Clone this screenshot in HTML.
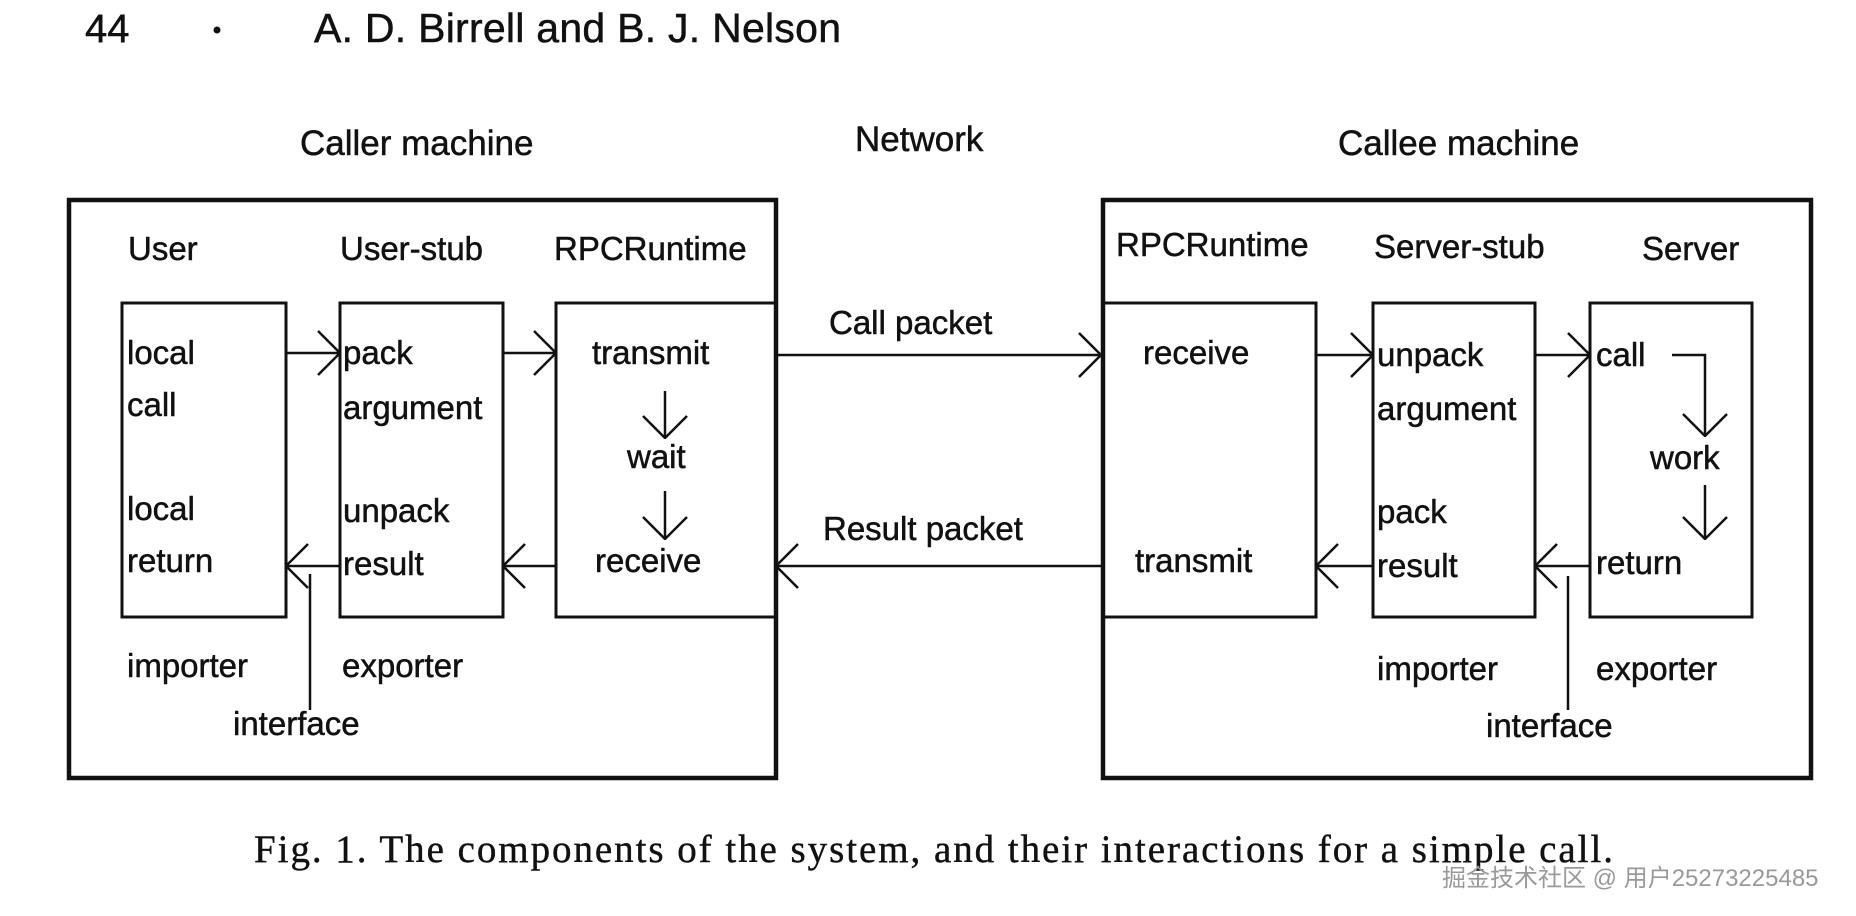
<!DOCTYPE html>
<html><head><meta charset="utf-8"><style>
html,body{margin:0;padding:0;background:#fff;}
svg{display:block;}
text{font-family:"Liberation Sans",Arial,sans-serif;fill:#111;font-size:33px;stroke:#111;stroke-width:0.5;}
</style></head><body>
<svg width="1856" height="916" viewBox="0 0 1856 916" xmlns="http://www.w3.org/2000/svg">
<defs>
<marker id="a" viewBox="0 0 24 46" refX="23" refY="23" markerWidth="24" markerHeight="46" markerUnits="userSpaceOnUse" orient="auto">
<path d="M1,1 L23,23 L1,45" fill="none" stroke="#111" stroke-width="2.5"/>
</marker>
</defs>
<text x="85" y="42" style="font-size:40px">44</text>
<circle cx="217" cy="30" r="3.5" fill="#111"/>
<text x="314" y="42" style="font-size:41px" textLength="527" lengthAdjust="spacing">A. D. Birrell and B. J. Nelson</text>

<text x="300" y="155" style="font-size:35px">Caller machine</text>
<text x="855" y="151" style="font-size:35px">Network</text>
<text x="1338" y="155" style="font-size:35px">Callee machine</text>

<g fill="none" stroke="#111">
<rect x="69" y="200" width="707" height="578" stroke-width="4.5"/>
<rect x="1103" y="200" width="708" height="578" stroke-width="4.5"/>
<g stroke-width="3">
<rect x="122" y="303" width="164" height="314"/>
<rect x="340" y="303" width="163" height="314"/>
<rect x="556" y="303" width="220" height="314"/>
<rect x="1103" y="303" width="213" height="314"/>
<rect x="1373" y="303" width="162" height="314"/>
<rect x="1590" y="303" width="162" height="314"/>
</g>
<g stroke-width="2.5" marker-end="url(#a)">
<line x1="286" y1="353" x2="340" y2="353"/>
<line x1="503" y1="353" x2="556" y2="353"/>
<line x1="776" y1="355" x2="1101" y2="355"/>
<line x1="340" y1="566" x2="286" y2="566"/>
<line x1="556" y1="566" x2="503" y2="566"/>
<line x1="1101" y1="566" x2="776" y2="566"/>
<line x1="1316" y1="355" x2="1373" y2="355"/>
<line x1="1535" y1="355" x2="1590" y2="355"/>
<line x1="1373" y1="566" x2="1316" y2="566"/>
<line x1="1590" y1="566" x2="1535" y2="566"/>
<line x1="665" y1="391" x2="665" y2="438"/>
<line x1="665" y1="491" x2="665" y2="539"/>
<polyline points="1672,355 1705,355 1705,436"/>
<line x1="1705" y1="485" x2="1705" y2="539"/>
</g>
<line x1="310" y1="574" x2="310" y2="710" stroke-width="2.5"/>
<line x1="1568" y1="576" x2="1568" y2="710" stroke-width="2.5"/>
</g>

<text x="128" y="260">User</text>
<text x="340" y="260">User-stub</text>
<text x="554" y="260">RPCRuntime</text>
<text x="1116" y="256">RPCRuntime</text>
<text x="1374" y="258">Server-stub</text>
<text x="1642" y="260">Server</text>

<text x="127" y="364">local</text>
<text x="127" y="416">call</text>
<text x="127" y="520">local</text>
<text x="127" y="572">return</text>
<text x="343" y="364">pack</text>
<text x="343" y="419">argument</text>
<text x="343" y="522">unpack</text>
<text x="343" y="575">result</text>
<text x="592" y="364">transmit</text>
<text x="627" y="468">wait</text>
<text x="595" y="572">receive</text>

<text x="829" y="334">Call packet</text>
<text x="823" y="540">Result packet</text>

<text x="1143" y="364">receive</text>
<text x="1135" y="572">transmit</text>
<text x="1377" y="366">unpack</text>
<text x="1377" y="420">argument</text>
<text x="1377" y="523">pack</text>
<text x="1377" y="577">result</text>
<text x="1596" y="366">call</text>
<text x="1650" y="469">work</text>
<text x="1596" y="574">return</text>

<text x="127" y="677">importer</text>
<text x="342" y="677">exporter</text>
<text x="233" y="735">interface</text>
<text x="1377" y="680">importer</text>
<text x="1596" y="680">exporter</text>
<text x="1486" y="737">interface</text>

<text x="254" y="862" style="font-family:'Liberation Serif',serif;font-size:39px;stroke-width:0.4" textLength="1359" lengthAdjust="spacing">Fig. 1.   The components of the system, and their interactions for a simple call.</text>
<text x="1442" y="886" style="fill:#999;stroke:none;font-size:24px;font-family:'Liberation Sans','Noto Sans CJK SC',sans-serif">掘金技术社区 @ 用户25273225485</text>
</svg>
</body></html>
